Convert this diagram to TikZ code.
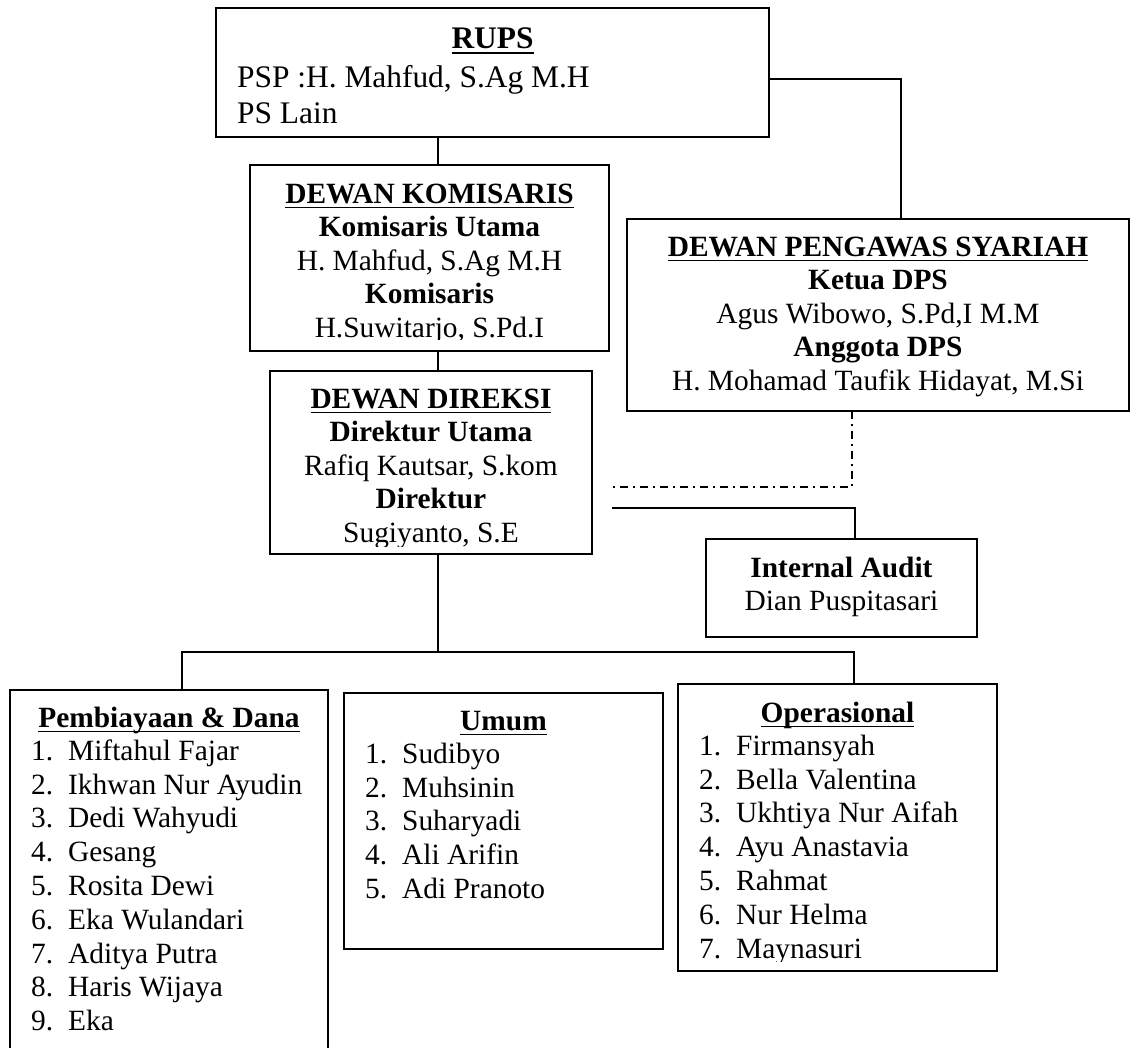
\documentclass[tikz,border=0pt]{standalone}
\usepackage{fontspec}
\setmainfont{Liberation Serif}
\newcommand\ulx[1]{\leavevmode\setbox0=\hbox{#1}\rlap{\rule[-5pt]{\wd0}{1.5pt}}\box0}
\newcommand\fsn{\fontsize{29.4}{33.5}\selectfont}
\newcommand\fsl{\fontsize{29.4}{33.8}\selectfont}
\newcommand\fsr{\fontsize{31.4}{36}\selectfont}
\newcommand\stt{\rule{0pt}{24pt}}
\newcommand\nm[1]{\makebox[37pt][l]{#1}}
\begin{document}
\begin{tikzpicture}[x=1pt,y=-1pt,
  box/.style={draw, line width=1.8pt, inner sep=0pt, outer sep=0pt},
  conn/.style={line width=1.5pt},
  txt/.style={inner sep=0pt, font=\fsn, align=center, anchor=north},
  lst/.style={inner sep=0pt, font=\fsl, align=left, anchor=north west},
  ttl/.style={inner sep=0pt, font=\fsn\bfseries, anchor=base}]
\useasboundingbox (0,0) rectangle (1136,1048);
\fill[white] (0,0) rectangle (1136,1048);

% boxes
\node[box, minimum width=553pt, minimum height=129pt] (rups) at (492.5,72.5) {};
\node[box, minimum width=359pt, minimum height=186pt] (dk) at (429.5,258) {};
\node[box, minimum width=502pt, minimum height=192pt] (dps) at (878,315) {};
\node[box, minimum width=322pt, minimum height=183pt] (dd) at (431,462.5) {};
\node[box, minimum width=271pt, minimum height=98pt] (ia) at (841.5,588) {};
\node[box, minimum width=318pt, minimum height=375pt] (pd) at (169,877.5) {};
\node[box, minimum width=319pt, minimum height=256pt] (um) at (503.5,821) {};
\node[box, minimum width=319pt, minimum height=287pt] (op) at (837.5,827.5) {};

% RUPS
\node[inner sep=0pt, font=\fsr\bfseries, anchor=base] (rupsT) at (492.5,49) {\ulx{RUPS}};
\node[inner sep=0pt, font=\fsr, align=left, anchor=north west] (rupsB) at (237,63) {\stt PSP :H. Mahfud, S.Ag M.H\\ PS Lain};

% Dewan Komisaris
\begin{scope}
\clip (250,165) rectangle (609,340);
\node[txt] (dkT) at (429.5,179) {\stt\ulx{\textbf{DEWAN KOMISARIS}}\\ \textbf{Komisaris Utama}\\ H. Mahfud, S.Ag M.H\\ \textbf{Komisaris}\\ H.Suwitarjo, S.Pd.I};
\end{scope}

% DPS
\node[txt] (dpsT) at (878,232) {\stt\ulx{\textbf{DEWAN PENGAWAS SYARIAH}}\\ \textbf{Ketua DPS}\\ Agus Wibowo, S.Pd,I M.M\\ \textbf{Anggota DPS}\\ H. Mohamad Taufik Hidayat, M.Si};

% Dewan Direksi
\begin{scope}
\clip (270,371) rectangle (592,546);
\node[txt] (ddT) at (431,384) {\stt\ulx{\textbf{DEWAN DIREKSI}}\\ \textbf{Direktur Utama}\\ Rafiq Kautsar, S.kom\\ \textbf{Direktur}\\ Sugiyanto, S.E};
\end{scope}

% Internal Audit
\node[txt] (iaT) at (841.5,553) {\stt\textbf{Internal Audit}\\ Dian Puspitasari};

% Pembiayaan & Dana
\node[ttl] (pdH) at (169,727) {\ulx{Pembiayaan \& Dana}};
\node[lst] (pdL) at (31,736) {\stt\nm{1.}Miftahul Fajar\\ \nm{2.}Ikhwan Nur Ayudin\\ \nm{3.}Dedi Wahyudi\\ \nm{4.}Gesang\\ \nm{5.}Rosita Dewi\\ \nm{6.}Eka Wulandari\\ \nm{7.}Aditya Putra\\ \nm{8.}Haris Wijaya\\ \nm{9.}Eka};

% Umum
\node[ttl] (umH) at (503.5,730) {\ulx{Umum}};
\node[lst] (umL) at (365,739) {\stt\nm{1.}Sudibyo\\ \nm{2.}Muhsinin\\ \nm{3.}Suharyadi\\ \nm{4.}Ali Arifin\\ \nm{5.}Adi Pranoto};

% Operasional
\node[ttl] (opH) at (837.5,722) {\ulx{Operasional}};
\begin{scope}
\clip (678,684) rectangle (997,961);
\node[lst] (opL) at (699,731) {\stt\nm{1.}Firmansyah\\ \nm{2.}Bella Valentina\\ \nm{3.}Ukhtiya Nur Aifah\\ \nm{4.}Ayu Anastavia\\ \nm{5.}Rahmat\\ \nm{6.}Nur Helma\\ \nm{7.}Maynasuri};
\end{scope}

% connectors
\coordinate (spine) at (438,0);
\coordinate (busL) at (182,652);
\coordinate (busR) at (854,652);
\draw[conn] (spine |- rups.south) -- (spine |- dk.north);
\draw[conn] (spine |- dk.south) -- (spine |- dd.north);
\draw[conn] (spine |- dd.south) -- (spine |- busL);
\draw[conn] (busL |- pd.north) -- (busL) -- (busR) -- (busR |- op.north);
\coordinate (rx) at (901,79);
\draw[conn] (rups.east |- rx) -- (rx) -- (rx |- dps.north);
\coordinate (dA) at (612,487);
\coordinate (dB) at (852,487);
\draw[conn, dash pattern=on 8pt off 5pt on 2pt off 5pt] (dB |- dps.south) -- (dB) -- (dA);
\coordinate (sA) at (612,508);
\coordinate (sB) at (855,508);
\draw[conn] (sA) -- (sB) -- (sB |- ia.north);
\end{tikzpicture}
\end{document}
